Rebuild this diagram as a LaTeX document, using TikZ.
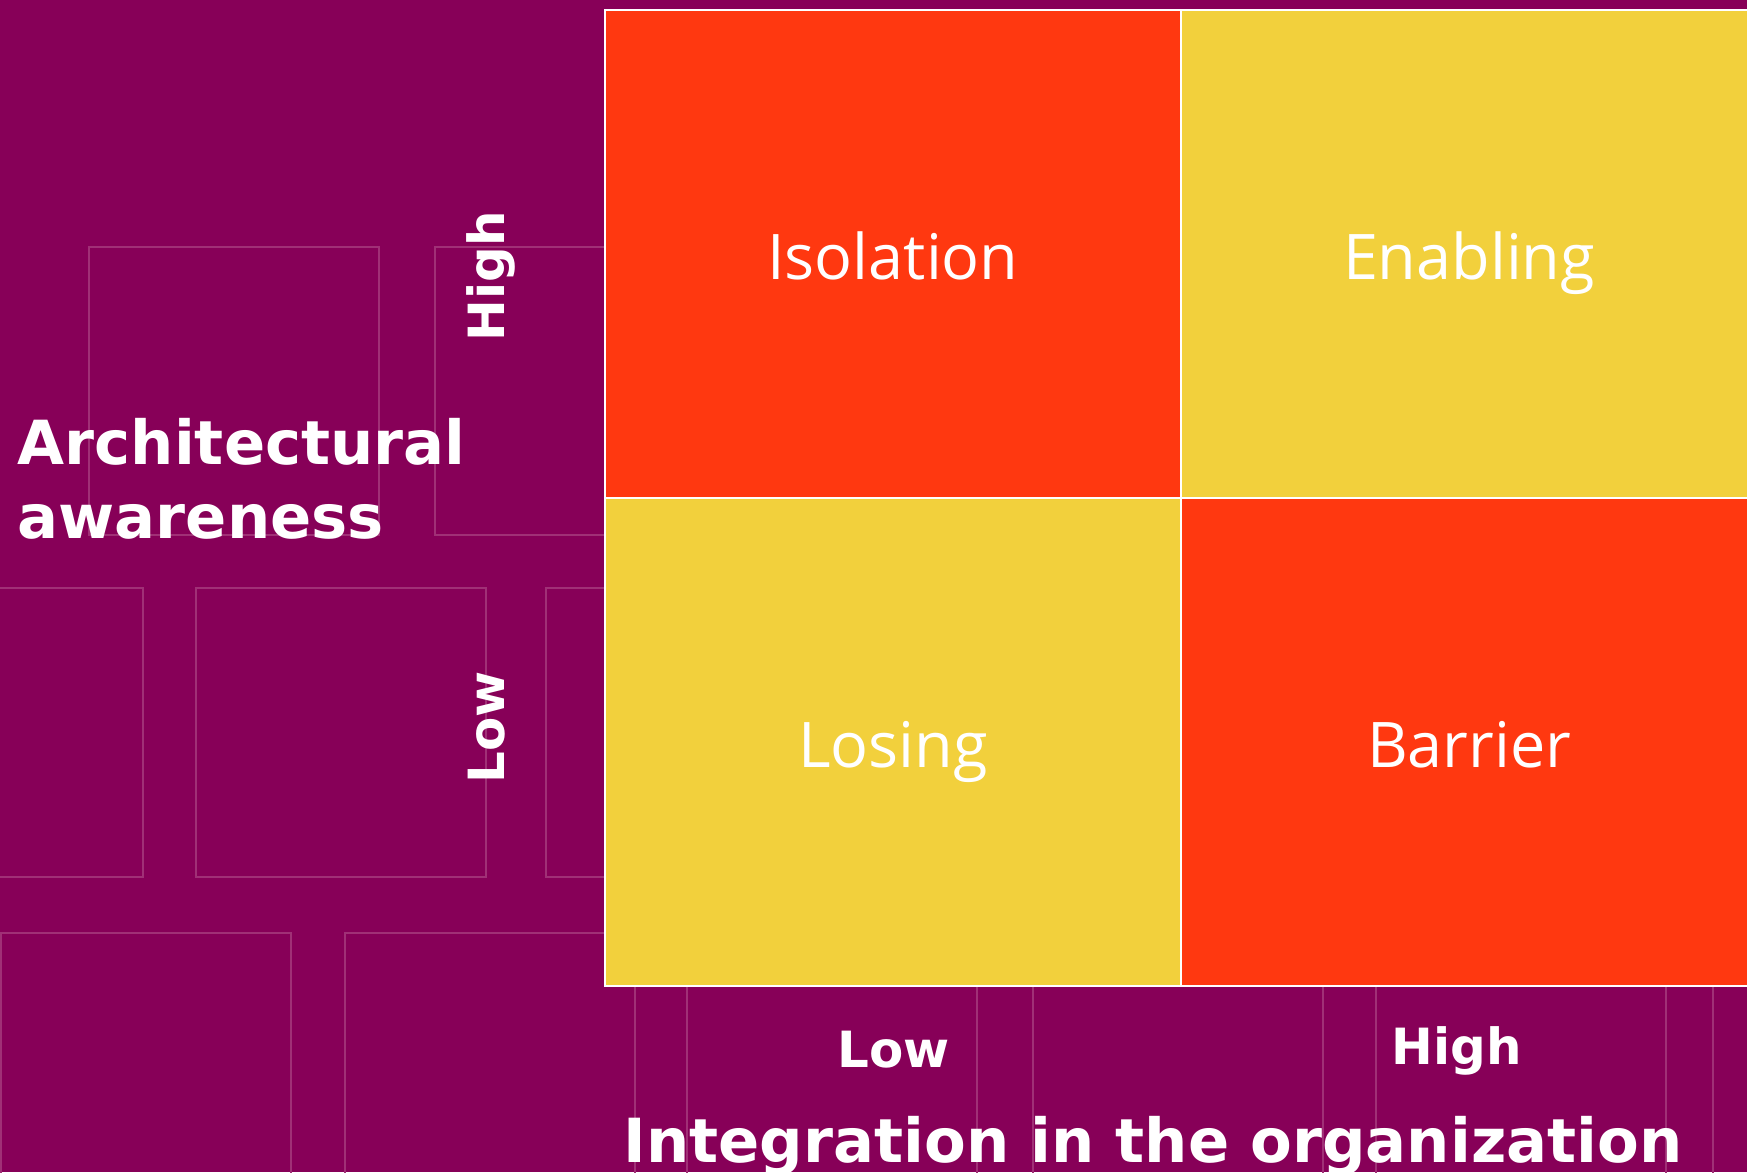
\documentclass[tikz,border=0pt]{standalone}
\usepackage{fontspec}
\setmainfont{DejaVu Sans}
\newfontfamily\cellfont{Open Sans}
\definecolor{bgpurple}{RGB}{135,0,88}
\definecolor{squareline}{RGB}{160,48,118}
\definecolor{cellred}{RGB}{255,56,16}
\definecolor{cellyellow}{RGB}{242,208,60}
\begin{document}
\begin{tikzpicture}[y=-1cm,
	sq/.style={draw=squareline,line width=0.6pt},
	cell/.style={draw=white,line width=0.6pt,minimum width=5.76cm,minimum height=4.88cm,inner sep=0pt,text=white,font=\cellfont\fontsize{17.9}{20}\selectfont,text height=0.5cm,text depth=0cm},
	axislabel/.style={text=white,font=\bfseries\fontsize{14.2}{16}\selectfont,inner sep=0pt,anchor=base},
	axistitle/.style={text=white,font=\bfseries\fontsize{17.3}{20.8}\selectfont,inner sep=0pt}
	]
			\fill[bgpurple] (0,0) rectangle (17.47,11.72);
			\useasboundingbox (0,0) rectangle (17.47,11.72);
			\foreach \x in {0.89,4.35} \draw[sq] (\x,2.47) rectangle +(2.9,2.88);
			\foreach \x in {-1.47,1.96,5.46} \draw[sq] (\x,5.88) rectangle +(2.9,2.89);
			\foreach \x in {0.01,3.45,6.87,10.33,13.76,17.13} \draw[sq] (\x,9.33) rectangle +(2.9,2.89);
			\node[cell,fill=cellred] (iso) at (8.93,2.54) {Isolation};
			\node[cell,fill=cellyellow] (enab) at (14.69,2.54) {Enabling};
			\node[cell,fill=cellyellow] (lose) at (8.93,7.42) {Losing};
			\node[cell,fill=cellred] (barr) at (14.69,7.42) {Barrier};
			\node[axistitle,anchor=base west,align=left] (aware) at (0.17,5.38) {Architectural\\awareness};
			\node[axistitle,anchor=base] (integ) at (11.53,11.62) {Integration in the organization};
			\node[axislabel,rotate=90] (yhigh) at (5.04,2.76) {High};
			\node[axislabel,rotate=90] (ylow) at (5.04,7.27) {Low};
			\node[axislabel] (xlow) at (8.94,10.67) {Low};
			\node[axislabel] (xhigh) at (14.57,10.64) {High};
\end{tikzpicture}
\end{document}
